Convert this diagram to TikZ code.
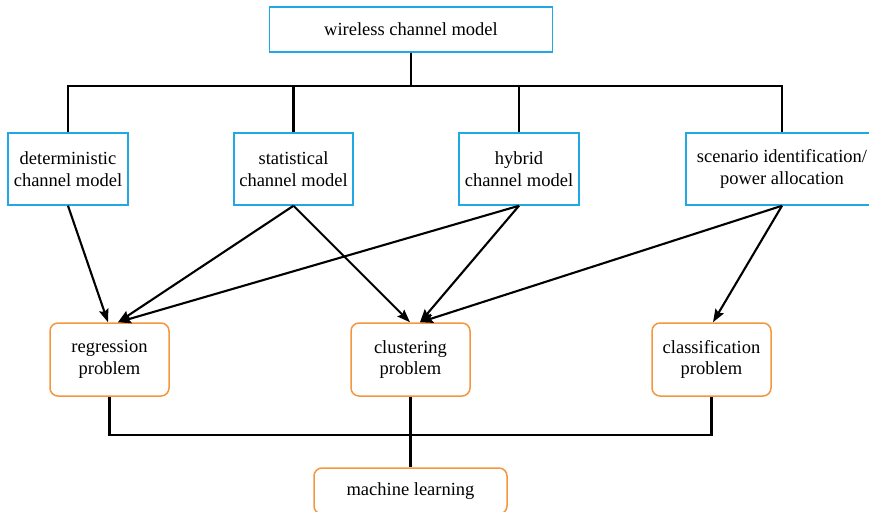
\documentclass[tikz,border=0pt]{standalone}
\usepackage{fontspec}
\setmainfont{Liberation Serif}
\usetikzlibrary{arrows.meta,calc}
\definecolor{cblue}{RGB}{32,168,228}
\definecolor{corange}{RGB}{244,150,62}
\begin{document}
\begin{tikzpicture}[x=1pt,y=-1pt,
  every node/.style={font=\fontsize{18.5}{21.5}\selectfont, align=center, inner sep=0pt},
  bluebox/.style={draw=cblue, line width=1.5pt, minimum height=72pt},
  orbox/.style={draw=corange, line width=1.5pt, rounded corners=8pt, minimum height=73pt},
  conn/.style={draw=black, line width=2.1pt},
  arr/.style={conn, -{Stealth[length=13pt,width=9.5pt,inset=2pt]}}
]
\useasboundingbox (0,0) rectangle (869,511);

% top
\node[bluebox, minimum width=283pt, minimum height=45pt] (top) at (411,29.5) {wireless channel model};

% second row
\node[bluebox, minimum width=120pt] (det) at (68,169) {deterministic\\channel model};
\node[bluebox, minimum width=119pt] (stat) at (293.5,169) {statistical\\channel model};
\node[bluebox, minimum width=120pt] (hyb) at (519,169) {hybrid\\channel model};
\node[bluebox, minimum width=192pt] (scn) at (782,169) {scenario identification/\\power allocation};

% third row
\node[orbox, minimum width=119pt] (reg) at (109.5,359.5) {regression\\problem};
\node[orbox, minimum width=119pt] (clu) at (410.5,359.5) {clustering\\problem};
\node[orbox, minimum width=119pt] (cls) at (711.5,359.5) {classification\\problem};

% bottom
\node[orbox, minimum width=193pt, minimum height=46pt] (ml) at (410.5,491) {machine learning};

% tree on top
\coordinate (bus) at (411,86);
\coordinate (bus2) at (411,435);
\draw[conn] (top.south) -- (bus);
\draw[conn] (det.north) |- (bus) -| (scn.north);
\draw[conn] (stat.north) -- (stat.north |- bus);
\draw[conn] (hyb.north) -- (hyb.north |- bus);

% bottom tree
\draw[conn] (reg.south) |- (bus2) -| (cls.south);
\draw[conn] (clu.south) -- (ml.north);

% arrows
\draw[arr] (det.south) -- ($(reg.north)+(-1.5,0)$);
\draw[arr] (stat.south) -- ($(reg.north)+(8.5,0)$);
\draw[arr] (hyb.south) -- ($(reg.north)+(8.5,0)$);
\draw[arr] (stat.south) -- ($(clu.north)+(-0.5,0)$);
\draw[arr] (hyb.south) -- ($(clu.north)+(9.5,0)$);
\draw[arr] (scn.south) -- ($(clu.north)+(9.5,0)$);
\draw[arr] (scn.south) -- ($(cls.north)+(1.5,0)$);
\end{tikzpicture}
\end{document}
